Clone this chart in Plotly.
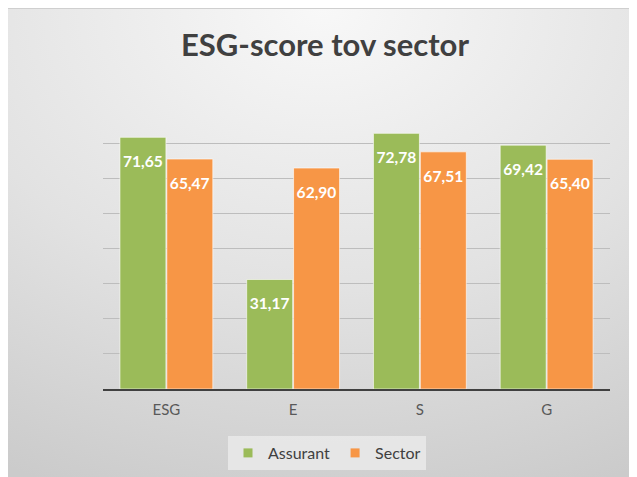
import plotly.graph_objects as go
import urllib.parse

categories = ["ESG", "E", "S", "G"]
assurant = [71.65, 31.17, 72.78, 69.42]
sector = [65.47, 62.90, 67.51, 65.40]
series_names = ["Assurant", "Sector"]
title_text = "ESG-score tov sector"

def fmt(v):
    return ("<span style='font-size:7px'> </span><br><b>"
            + f"{v:.2f}".replace(".", ",") + "</b>")

W, H = 629, 469
L, R, T, B = 95, 27, 100, 88
pw, ph = W - L - R, H - T - B

def px_to_paper_x(px):
    return (px - L) / pw

def px_to_paper_y(py):
    return (H - B - py) / ph

svg = (
    "<svg xmlns='http://www.w3.org/2000/svg' width='630' height='469' preserveAspectRatio='none'>"
    "<defs><radialGradient id='g' cx='50%' cy='0%' r='110%' fx='50%' fy='0%'>"
    "<stop offset='0' stop-color='#f8f8f8'/><stop offset='0.55' stop-color='#e2e2e2'/>"
    "<stop offset='1' stop-color='#cbcbcb'/></radialGradient></defs>"
    "<rect width='630' height='469' fill='url(#g)'/></svg>"
)
src = "data:image/svg+xml;charset=utf-8," + urllib.parse.quote(svg)

font = "Lato, 'Open Sans', sans-serif"

fig = go.Figure()
fig.add_trace(go.Bar(
    x=categories, y=assurant, name=series_names[0], showlegend=False,
    marker=dict(color="#9BBB59", line=dict(color="rgba(255,255,255,0.6)", width=1)),
    text=[fmt(v) for v in assurant], textposition="inside", insidetextanchor="end",
    textfont=dict(color="white", size=17, family=font), textangle=0,
))
fig.add_trace(go.Bar(
    x=categories, y=sector, name=series_names[1], showlegend=False,
    marker=dict(color="#F79646", line=dict(color="rgba(255,255,255,0.6)", width=1)),
    text=[fmt(v) for v in sector], textposition="inside", insidetextanchor="end",
    textfont=dict(color="white", size=17, family=font), textangle=0,
))
for name, color in zip(series_names, ["#9BBB59", "#F79646"]):
    fig.add_trace(go.Scatter(
        x=[None], y=[None], mode="markers", name=name,
        marker=dict(symbol="square", size=9, color=color),
    ))

x0, x1 = px_to_paper_x(0), px_to_paper_x(W)
y0, y1 = px_to_paper_y(H), px_to_paper_y(0)

fig.update_layout(
    width=W, height=H,
    margin=dict(l=L, r=R, t=T, b=B, autoexpand=False),
    paper_bgcolor="white", plot_bgcolor="rgba(0,0,0,0)",
    barmode="group", bargap=0.26, bargroupgap=0.02,
    title=dict(text="<b>" + title_text + "</b>", x=317 / W, xanchor="center",
               y=1 - 37 / H, yanchor="middle", yref="container",
               font=dict(size=31, color="#404040", family=font)),
    font=dict(family=font, color="#595959"),
    showlegend=True,
    legend=dict(orientation="h", x=px_to_paper_x(319), xanchor="center",
                y=px_to_paper_y(445), yanchor="middle",
                bgcolor="rgba(235,235,235,0.8)", font=dict(size=16, color="#404040"),
                itemwidth=30, traceorder="normal"),
    xaxis=dict(showgrid=False, showline=True, linecolor="#404040", linewidth=2,
               ticks="", ticklabelstandoff=6,
               tickfont=dict(size=15, color="#595959"), fixedrange=True),
    yaxis=dict(range=[0, 80], dtick=10, showgrid=True, gridcolor="#bdbdbd", gridwidth=1,
               showticklabels=False, zeroline=False, showline=False, ticks=""),
    images=[dict(source=src, xref="paper", yref="paper", x=x0, y=y1,
                 sizex=x1 - x0, sizey=y1 - y0, xanchor="left", yanchor="top",
                 sizing="stretch", layer="below")],
    shapes=[dict(type="line", xref="paper", yref="paper", x0=x0, x1=x1, y0=y1, y1=y1,
                 line=dict(color="#cfcfcf", width=2), layer="below")],
)

fig.write_html("out.html")
